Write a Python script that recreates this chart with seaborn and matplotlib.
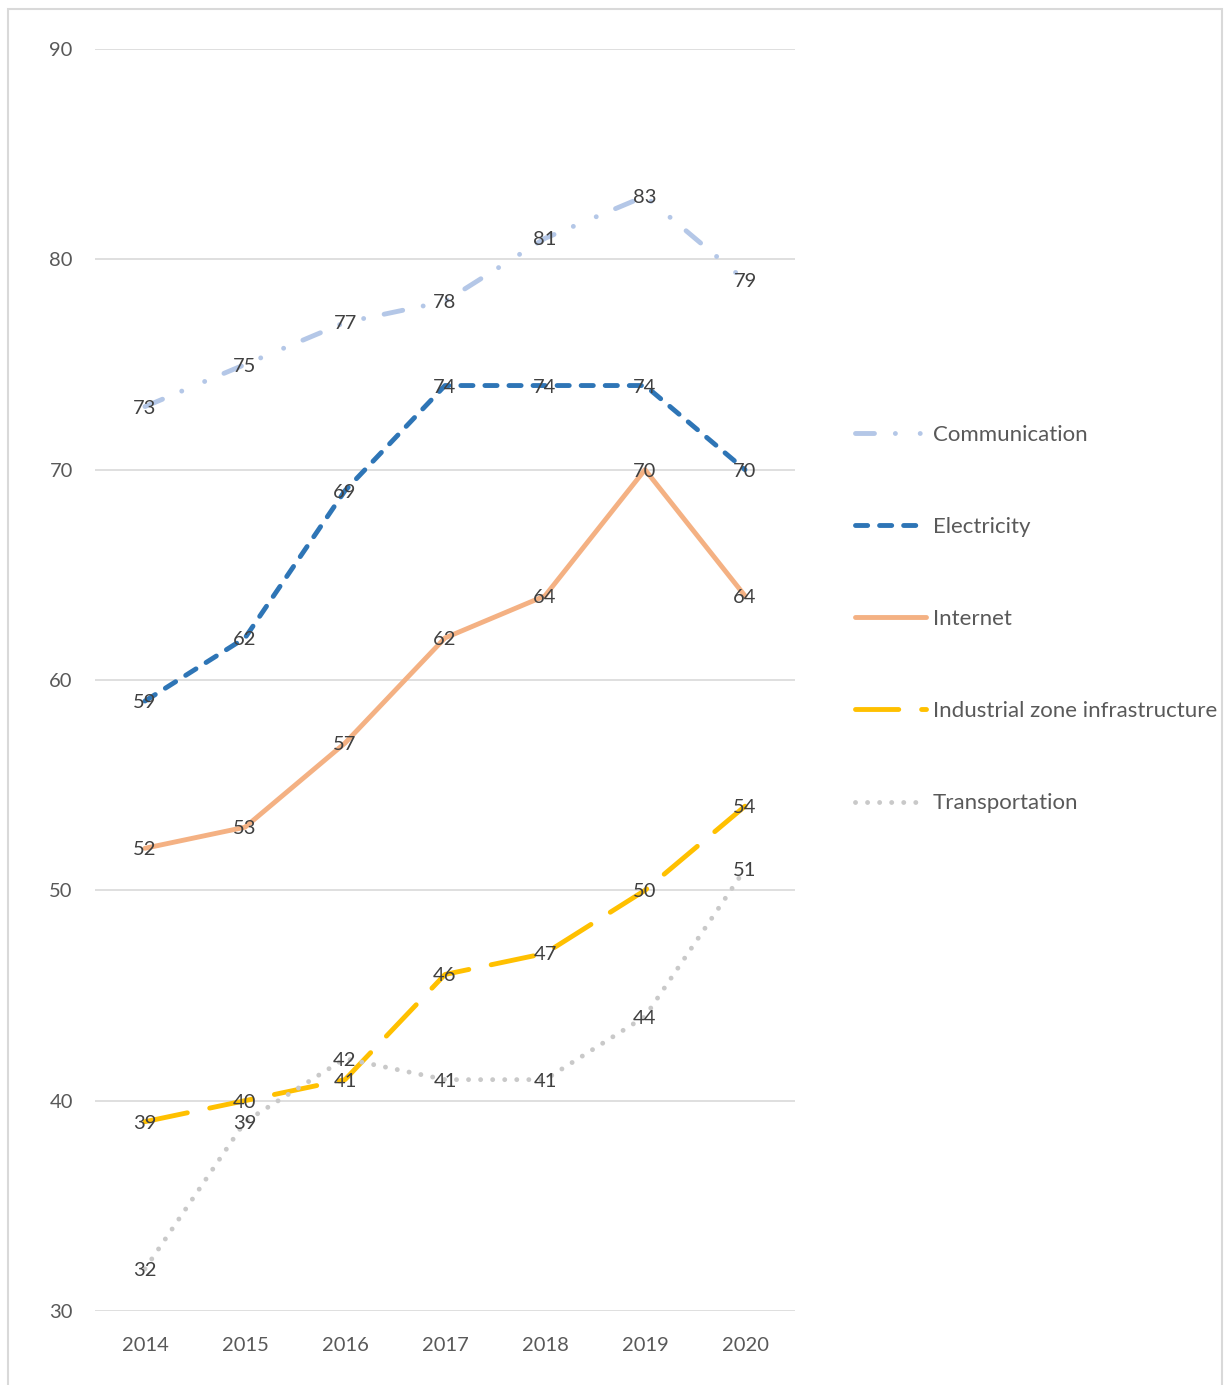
import matplotlib
matplotlib.use("Agg")
import matplotlib.pyplot as plt
import seaborn as sns
from matplotlib.lines import Line2D
from matplotlib.patches import Rectangle

years = [2014, 2015, 2016, 2017, 2018, 2019, 2020]
series_names = ["Communication", "Electricity", "Internet",
                "Industrial zone infrastructure", "Transportation"]
communication = [73, 75, 77, 78, 81, 83, 79]
electricity = [59, 62, 69, 74, 74, 74, 70]
internet = [52, 53, 57, 62, 64, 70, 64]
industrial = [39, 40, 41, 46, 47, 50, 54]
transportation = [32, 39, 42, 41, 41, 44, 51]
y_ticks = [30, 40, 50, 60, 70, 80, 90]

values = [communication, electricity, internet, industrial, transportation]
colors = ["#B4C7E7", "#2E75B6", "#F4B183", "#FFC000", "#C9C9C9"]
styles = [(0, (3.9, 4.3, 0.01, 5.1, 0.01, 4.3)),
          (0, (2.5, 2.45)),
          "-",
          (0, (8.9, 4.7)),
          (0, (0.01, 2.47))]
LW = 3.5

sns.set_theme(style="white")
plt.rcParams["font.family"] = ["Lato", "DejaVu Sans"]

fig = plt.figure(figsize=(12.26, 13.85), dpi=100)
ax = fig.add_axes([95 / 1226, 74 / 1385, 700 / 1226, 1262 / 1385])

handles = []
for name, vals, col, ls in zip(series_names, values, colors, styles):
    sns.lineplot(x=years, y=vals, ax=ax, color=col, linestyle=ls, linewidth=LW,
                 dash_capstyle="round", solid_capstyle="round", legend=False)
    handles.append(Line2D([0], [0], color=col, linestyle=ls, linewidth=LW,
                          dash_capstyle="round", solid_capstyle="round", label=name))

for vals in values:
    for x, v in zip(years, vals):
        ax.text(x, v, str(v), ha="center", va="center_baseline", fontsize=14.5,
                color="#404040", zorder=5)

ax.set_xlim(2013.5, 2020.5)
ax.set_ylim(30, 90)
ax.set_yticks(y_ticks)
ax.set_xticks(years)
ax.set_xticklabels([str(y) for y in years])
ax.tick_params(axis="both", labelsize=14.5, labelcolor="#595959", length=0)
ax.tick_params(axis="y", pad=16)
ax.tick_params(axis="x", pad=19)
ax.grid(axis="y", color="#D9D9D9", linewidth=1.2)
ax.grid(axis="x", visible=False)
for s in ax.spines.values():
    s.set_visible(False)
ax.set_xlabel("")
ax.set_ylabel("")

fig.legend(handles=handles, loc="center left",
           bbox_to_anchor=(855 / 1226, (1385 - 619) / 1385),
           frameon=False, fontsize=16, labelcolor="#595959",
           handlelength=3.2, handletextpad=0.3, labelspacing=3.25,
           borderpad=0, borderaxespad=0)

fig.add_artist(Rectangle((8 / 1226, -0.01), (1222 - 8) / 1226, (1385 - 9) / 1385 + 0.01,
                         transform=fig.transFigure, fill=False,
                         edgecolor="#D9D9D9", linewidth=1.5))

fig.savefig("out.png", dpi=100)
